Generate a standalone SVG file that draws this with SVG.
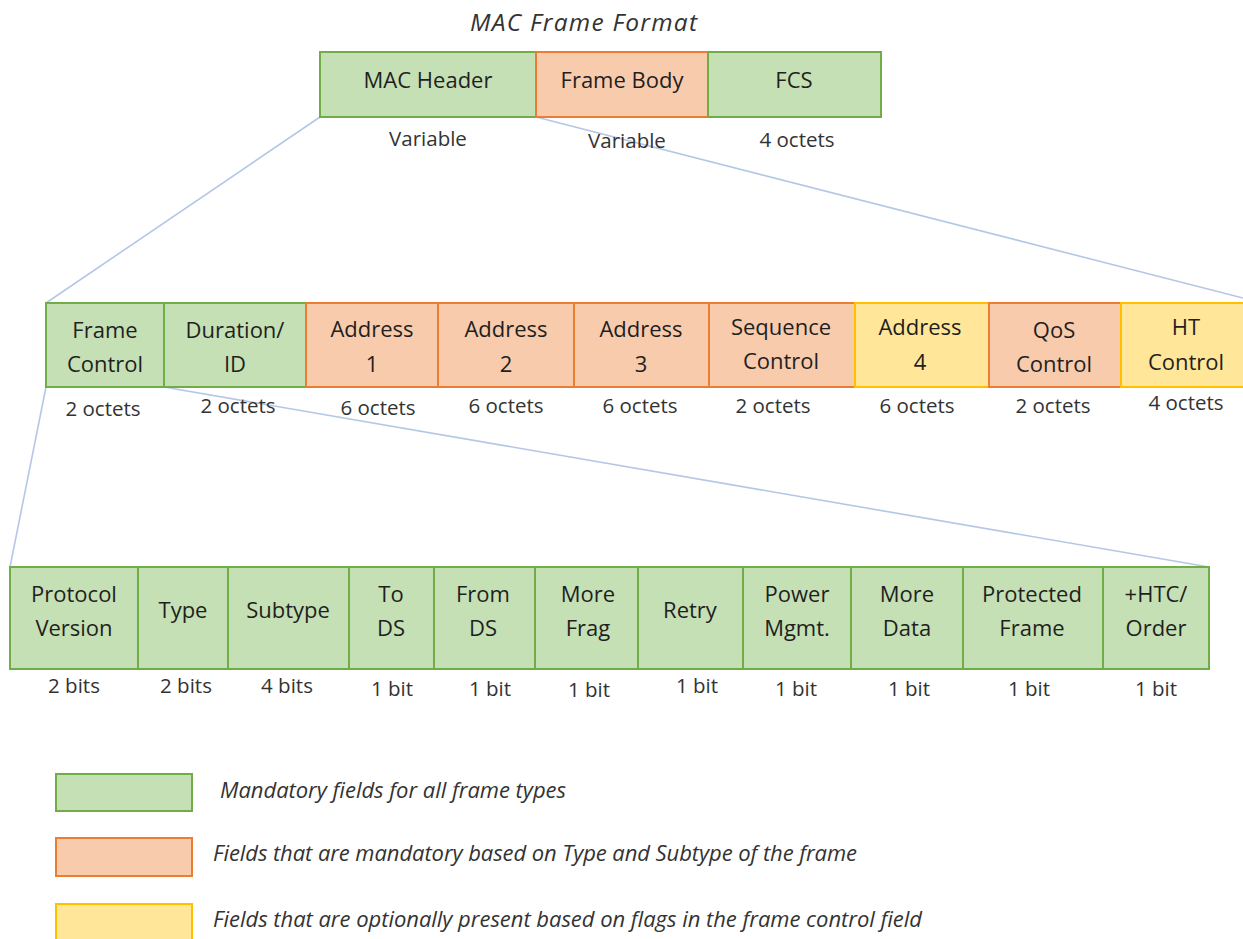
<svg xmlns="http://www.w3.org/2000/svg" width="1243" height="939" viewBox="0 0 1243 939">
<style>
.g{fill:#c5e0b4;stroke:#70ad47;stroke-width:2}
.o{fill:#f8cbad;stroke:#ed7d31;stroke-width:2}
.y{fill:#ffe699;stroke:#ffc000;stroke-width:2}
.t{font-family:"Open Sans","Noto Sans",sans-serif;font-size:22px;fill:#1f1f1f;text-anchor:middle}
.s{font-family:"Open Sans","Noto Sans",sans-serif;font-size:20.5px;fill:#333333;text-anchor:middle}
.i{font-family:"Open Sans","Noto Sans",sans-serif;font-size:22px;font-style:italic;fill:#333333}
.c{stroke:#b4c7e7;stroke-width:1.6;fill:none}
</style>
<rect width="1243" height="939" fill="#ffffff"/>
<g id="connectors">
<line class="c" x1="320" y1="117" x2="46" y2="303"/>
<line class="c" x1="536" y1="117" x2="1243" y2="298"/>
<line class="c" x1="46" y1="387" x2="10" y2="567"/>
<line class="c" x1="164" y1="387" x2="1209" y2="567"/>
</g>
<text id="title" class="i" x="470" y="31" style="font-size:24.5px" textLength="227">MAC Frame Format</text>
<g id="mac-header"><rect class="g" x="320" y="52" width="216" height="65"/><text class="t" x="428" y="88">MAC Header</text><text class="s" x="428" y="146">Variable</text></g>
<g id="frame-body"><rect class="o" x="536" y="52" width="172" height="65"/><text class="t" x="622" y="88">Frame Body</text><text class="s" x="627" y="148">Variable</text></g>
<g id="fcs"><rect class="g" x="708" y="52" width="173" height="65"/><text class="t" x="794" y="88">FCS</text><text class="s" x="797" y="147">4 octets</text></g>

<g id="frame-control"><rect class="g" x="46" y="303" width="118" height="84"/><text class="t" x="105" y="338">Frame</text><text class="t" x="105" y="372">Control</text><text class="s" x="103" y="416">2 octets</text></g>
<g id="duration-id"><rect class="g" x="164" y="303" width="142" height="84"/><text class="t" x="235" y="338">Duration/</text><text class="t" x="235" y="372">ID</text><text class="s" x="238" y="413">2 octets</text></g>
<g id="address1"><rect class="o" x="306" y="303" width="132" height="84"/><text class="t" x="372" y="337">Address</text><text class="t" x="372" y="372">1</text><text class="s" x="378" y="415">6 octets</text></g>
<g id="address2"><rect class="o" x="438" y="303" width="136" height="84"/><text class="t" x="506" y="337">Address</text><text class="t" x="506" y="372">2</text><text class="s" x="506" y="413">6 octets</text></g>
<g id="address3"><rect class="o" x="574" y="303" width="135" height="84"/><text class="t" x="641" y="337">Address</text><text class="t" x="641" y="372">3</text><text class="s" x="640" y="413">6 octets</text></g>
<g id="sequence-control"><rect class="o" x="709" y="303" width="146" height="84"/><text class="t" x="781" y="335">Sequence</text><text class="t" x="781" y="369">Control</text><text class="s" x="773" y="413">2 octets</text></g>
<g id="address4"><rect class="y" x="855" y="303" width="134" height="84"/><text class="t" x="920" y="335">Address</text><text class="t" x="920" y="370">4</text><text class="s" x="917" y="413">6 octets</text></g>
<g id="qos-control"><rect class="o" x="989" y="303" width="132" height="84"/><text class="t" x="1054" y="338">QoS</text><text class="t" x="1054" y="372">Control</text><text class="s" x="1053" y="413">2 octets</text></g>
<g id="ht-control"><rect class="y" x="1121" y="303" width="132" height="84"/><text class="t" x="1186" y="335">HT</text><text class="t" x="1186" y="370">Control</text><text class="s" x="1186" y="410">4 octets</text></g>

<g id="protocol-version"><rect class="g" x="10" y="567" width="128" height="102"/><text class="t" x="74" y="602">Protocol</text><text class="t" x="74" y="636">Version</text><text class="s" x="74" y="693">2 bits</text></g>
<g id="type"><rect class="g" x="138" y="567" width="90" height="102"/><text class="t" x="183" y="618">Type</text><text class="s" x="186" y="693">2 bits</text></g>
<g id="subtype"><rect class="g" x="228" y="567" width="121" height="102"/><text class="t" x="288" y="618">Subtype</text><text class="s" x="287" y="693">4 bits</text></g>
<g id="to-ds"><rect class="g" x="349" y="567" width="85" height="102"/><text class="t" x="391" y="602">To</text><text class="t" x="391" y="636">DS</text><text class="s" x="392" y="696">1 bit</text></g>
<g id="from-ds"><rect class="g" x="434" y="567" width="101" height="102"/><text class="t" x="483" y="602">From</text><text class="t" x="483" y="636">DS</text><text class="s" x="490" y="696">1 bit</text></g>
<g id="more-frag"><rect class="g" x="535" y="567" width="103" height="102"/><text class="t" x="588" y="602">More</text><text class="t" x="588" y="636">Frag</text><text class="s" x="589" y="697">1 bit</text></g>
<g id="retry"><rect class="g" x="638" y="567" width="105" height="102"/><text class="t" x="690" y="618">Retry</text><text class="s" x="697" y="693">1 bit</text></g>
<g id="power-mgmt"><rect class="g" x="743" y="567" width="108" height="102"/><text class="t" x="797" y="602">Power</text><text class="t" x="797" y="636">Mgmt.</text><text class="s" x="796" y="696">1 bit</text></g>
<g id="more-data"><rect class="g" x="851" y="567" width="112" height="102"/><text class="t" x="907" y="602">More</text><text class="t" x="907" y="636">Data</text><text class="s" x="909" y="696">1 bit</text></g>
<g id="protected-frame"><rect class="g" x="963" y="567" width="140" height="102"/><text class="t" x="1032" y="602">Protected</text><text class="t" x="1032" y="636">Frame</text><text class="s" x="1029" y="696">1 bit</text></g>
<g id="htc-order"><rect class="g" x="1103" y="567" width="106" height="102"/><text class="t" x="1156" y="602">+HTC/</text><text class="t" x="1156" y="636">Order</text><text class="s" x="1156" y="696">1 bit</text></g>

<g id="legend-mandatory"><rect class="g" x="56" y="774" width="136" height="37"/><text class="i" x="220" y="798" textLength="346">Mandatory fields for all frame types</text></g>
<g id="legend-type"><rect class="o" x="56" y="838" width="136" height="38"/><text class="i" x="213" y="861" textLength="644">Fields that are mandatory based on Type and Subtype of the frame</text></g>
<g id="legend-optional"><rect class="y" x="56" y="904" width="136" height="40"/><text class="i" x="213" y="927" textLength="709">Fields that are optionally present based on flags in the frame control field</text></g>
</svg>
